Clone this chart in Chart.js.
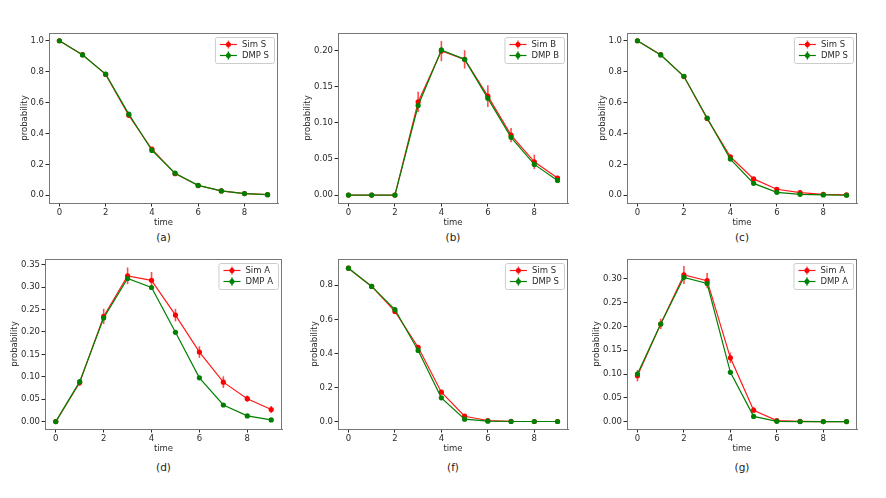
<!DOCTYPE html>
<html>
<head>
<meta charset="utf-8">
<script src="https://cdn.jsdelivr.net/npm/chart.js@4/dist/chart.umd.min.js"></script>
<style>
  body { margin: 0; background: #fff; }
  #fig { position: relative; width: 886px; height: 498px; overflow: hidden; }
  canvas { position: absolute; }
  .cap { position: absolute; font-family: "DejaVu Sans", sans-serif; font-size: 10.5px; color: #222; transform: translate(-50%, -50%); }
</style>
</head>
<body>
<div id="fig"></div>
<script>
// time steps and shared x ticks
const times = [0, 1, 2, 3, 4, 5, 6, 7, 8, 9];
const xTicks = [0, 2, 4, 6, 8];

// (a) S
const aSim = [1.0, 0.91, 0.782, 0.517, 0.298, 0.14, 0.063, 0.028, 0.011, 0.004];
const aSimErr = [0, 0.004, 0.005, 0.006, 0.006, 0.005, 0.004, 0.002, 0.001, 0.001];
const aDmp = [1.0, 0.908, 0.784, 0.525, 0.29, 0.143, 0.064, 0.028, 0.011, 0.004];
const aTicks = [0, 0.2, 0.4, 0.6, 0.8, 1.0];

// (b) B
const bSim = [0, 0, 0, 0.129, 0.1995, 0.188, 0.137, 0.083, 0.046, 0.0236];
const bSimErr = [0, 0, 0, 0.014, 0.014, 0.0127, 0.015, 0.01, 0.01, 0.003];
const bDmp = [0, 0, 0, 0.124, 0.201, 0.188, 0.134, 0.080, 0.0425, 0.0203];
const bTicks = [0, 0.05, 0.10, 0.15, 0.20];

// (c) S
const cSim = [1.0, 0.91, 0.768, 0.496, 0.249, 0.106, 0.039, 0.017, 0.006, 0.003];
const cSimErr = [0, 0.004, 0.006, 0.007, 0.007, 0.005, 0.003, 0.002, 0.001, 0.001];
const cDmp = [1.0, 0.908, 0.770, 0.50, 0.234, 0.077, 0.019, 0.006, 0.002, 0.0];
const cTicks = [0, 0.2, 0.4, 0.6, 0.8, 1.0];

// (d) A
const dSim = [0, 0.087, 0.2345, 0.325, 0.315, 0.2375, 0.155, 0.088, 0.051, 0.027];
const dSimErr = [0, 0.0075, 0.017, 0.0186, 0.0186, 0.014, 0.013, 0.013, 0.007, 0.008];
const dDmp = [0, 0.089, 0.231, 0.319, 0.299, 0.199, 0.0975, 0.037, 0.0127, 0.0037];
const dTicks = [0, 0.05, 0.10, 0.15, 0.20, 0.25, 0.30, 0.35];

// (f) S
const fSim = [0.9, 0.793, 0.646, 0.436, 0.172, 0.031, 0.006, 0.001, 0, 0];
const fSimErr = [0, 0.004, 0.006, 0.008, 0.007, 0.004, 0.002, 0, 0, 0];
const fDmp = [0.9, 0.793, 0.6575, 0.417, 0.139, 0.0137, 0.002, 0, 0, 0];
const fTicks = [0, 0.2, 0.4, 0.6, 0.8];

// (g) A
const gSim = [0.0965, 0.205, 0.308, 0.296, 0.134, 0.024, 0.002, 0.0005, 0, 0];
const gSimErr = [0.012, 0.011, 0.019, 0.016, 0.011, 0.006, 0.002, 0, 0, 0];
const gDmp = [0.100, 0.205, 0.303, 0.290, 0.1035, 0.011, 0.0007, 0, 0, 0];
const gTicks = [0, 0.05, 0.10, 0.15, 0.20, 0.25, 0.30];

const FONT = '"DejaVu Sans", sans-serif';
const TXT = '#2b2b2b';
const RED = 'rgba(255,0,0,0.9)';
const RED_ERR = 'rgba(255,0,0,0.7)';
const GREEN = '#008000';

// vertical error bars, frame and a matplotlib-like legend box
const figPlugin = {
    id: 'fig',
    beforeDatasetsDraw(chart) {
        const ctx = chart.ctx, xs = chart.scales.x, ys = chart.scales.y, a = chart.chartArea;
        ctx.save();
        ctx.beginPath();
        ctx.rect(a.left, a.top, a.right - a.left, a.bottom - a.top);
        ctx.clip();
        chart.data.datasets.forEach(ds => {
            if (!ds.errors) return;
            ctx.strokeStyle = ds.errColor;
            ctx.lineWidth = 1.6;
            ds.data.forEach((p, i) => {
                const e = ds.errors[i];
                if (!e) return;
                const px = xs.getPixelForValue(p.x);
                ctx.beginPath();
                ctx.moveTo(px, ys.getPixelForValue(p.y - e));
                ctx.lineTo(px, ys.getPixelForValue(p.y + e));
                ctx.stroke();
            });
        });
        ctx.restore();
    },
    afterDraw(chart) {
        const ctx = chart.ctx, a = chart.chartArea;
        ctx.save();
        ctx.strokeStyle = '#777';
        ctx.lineWidth = 1;
        ctx.strokeRect(Math.round(a.left) + 0.5, Math.round(a.top) + 0.5,
            Math.round(a.right - a.left) - 1, Math.round(a.bottom - a.top));

        // legend
        ctx.font = '8.5px ' + FONT;
        const sets = chart.data.datasets.slice().sort((p, q) => q.order - p.order);
        const tw = Math.max(...sets.map(d => ctx.measureText(d.label).width));
        const w = 27 + tw + 5, h = 26;
        const x0 = a.right - 4 - w, y0 = a.top + 4;
        ctx.fillStyle = 'rgba(255,255,255,0.85)';
        ctx.strokeStyle = '#ccc';
        ctx.beginPath();
        ctx.roundRect(x0 + 0.5, y0 + 0.5, w, h, 2);
        ctx.fill();
        ctx.stroke();
        sets.forEach((d, i) => {
            const yy = y0 + 7.5 + i * 11;
            ctx.strokeStyle = d.borderColor;
            ctx.lineWidth = 1.2;
            ctx.beginPath();
            ctx.moveTo(x0 + 5, yy);
            ctx.lineTo(x0 + 22, yy);
            ctx.stroke();
            ctx.strokeStyle = d.errColor;
            ctx.lineWidth = 1.5;
            ctx.beginPath();
            ctx.moveTo(x0 + 13.5, yy - 4);
            ctx.lineTo(x0 + 13.5, yy + 4);
            ctx.stroke();
            ctx.fillStyle = d.pointBackgroundColor;
            ctx.beginPath();
            ctx.arc(x0 + 13.5, yy, 2.5, 0, Math.PI * 2);
            ctx.fill();
            ctx.fillStyle = TXT;
            ctx.textBaseline = 'middle';
            ctx.fillText(d.label, x0 + 27, yy + 0.5);
        });
        ctx.restore();
    }
};

function panel(cfg) {
    const { rect, yW, yMin, yMax, yTicks, dec, sim, simErr, dmp, labels, caption } = cfg;
    const padTop = 8, padRight = 12, xH = 28;
    const fig = document.getElementById('fig');
    const cv = document.createElement('canvas');
    const W = (rect.r - rect.l) + yW + padRight;
    const H = (rect.b - rect.t) + padTop + xH;
    cv.width = W; cv.height = H;
    cv.style.left = (rect.l - yW) + 'px';
    cv.style.top = (rect.t - padTop) + 'px';
    cv.style.width = W + 'px';
    cv.style.height = H + 'px';
    fig.appendChild(cv);

    const cap = document.createElement('div');
    cap.className = 'cap';
    cap.textContent = caption;
    cap.style.left = ((rect.l + rect.r) / 2) + 'px';
    cap.style.top = cfg.capY + 'px';
    fig.appendChild(cap);

    const pts = arr => times.map((t, i) => ({ x: t, y: arr[i] }));
    const tickFont = { family: FONT, size: 8.5 };

    new Chart(cv, {
        type: 'line',
        data: {
            datasets: [
                {
                    label: labels[0], data: pts(sim), errors: simErr, errColor: RED_ERR,
                    borderColor: RED, backgroundColor: RED, pointBackgroundColor: '#ff0000',
                    borderWidth: 1.2, pointRadius: 2.6, pointBorderWidth: 0, order: 2
                },
                {
                    label: labels[1], data: pts(dmp), errColor: GREEN,
                    borderColor: GREEN, backgroundColor: GREEN, pointBackgroundColor: GREEN,
                    borderWidth: 1.2, pointRadius: 2.6, pointBorderWidth: 0, order: 1
                }
            ]
        },
        options: {
            responsive: false,
            animation: false,
            devicePixelRatio: 1,
            layout: { padding: { top: padTop, right: padRight, left: 0, bottom: 0 } },
            plugins: { legend: { display: false }, tooltip: { enabled: false } },
            scales: {
                x: {
                    type: 'linear', min: -0.45, max: 9.45,
                    afterBuildTicks: s => { s.ticks = xTicks.map(v => ({ value: v })); },
                    afterFit: s => { s.height = xH; },
                    grid: { drawOnChartArea: false, tickLength: 3.5, color: TXT },
                    border: { color: '#777' },
                    ticks: { font: tickFont, color: TXT, padding: 1.5, maxRotation: 0, autoSkip: false },
                    title: { display: true, text: 'time', font: tickFont, color: TXT, padding: { top: 0, bottom: 3 } }
                },
                y: {
                    type: 'linear', min: yMin, max: yMax,
                    afterBuildTicks: s => { s.ticks = yTicks.map(v => ({ value: v })); },
                    afterFit: s => { s.width = yW; },
                    grid: { drawOnChartArea: false, tickLength: 3.5, color: TXT },
                    border: { color: '#777' },
                    ticks: { font: tickFont, color: TXT, padding: 1.5, autoSkip: false, callback: v => v.toFixed(dec) },
                    title: { display: true, text: 'probability', font: tickFont, color: TXT, padding: { top: 3.5, bottom: 0 } }
                }
            }
        },
        plugins: [figPlugin]
    });
}

panel({ rect: { l: 49, t: 33, r: 278, b: 203 }, yW: 33, yMin: -0.05, yMax: 1.05, yTicks: aTicks, dec: 1,
    sim: aSim, simErr: aSimErr, dmp: aDmp, labels: ['Sim S', 'DMP S'], caption: '(a)', capY: 237 });
panel({ rect: { l: 338, t: 33, r: 568, b: 203 }, yW: 39, yMin: -0.011, yMax: 0.2245, yTicks: bTicks, dec: 2,
    sim: bSim, simErr: bSimErr, dmp: bDmp, labels: ['Sim B', 'DMP B'], caption: '(b)', capY: 237 });
panel({ rect: { l: 627, t: 33, r: 857, b: 203 }, yW: 33, yMin: -0.05, yMax: 1.05, yTicks: cTicks, dec: 1,
    sim: cSim, simErr: cSimErr, dmp: cDmp, labels: ['Sim S', 'DMP S'], caption: '(c)', capY: 237 });
panel({ rect: { l: 45, t: 259, r: 282, b: 429 }, yW: 39, yMin: -0.0165, yMax: 0.3625, yTicks: dTicks, dec: 2,
    sim: dSim, simErr: dSimErr, dmp: dDmp, labels: ['Sim A', 'DMP A'], caption: '(d)', capY: 467 });
panel({ rect: { l: 338, t: 259, r: 568, b: 429 }, yW: 32, yMin: -0.044, yMax: 0.954, yTicks: fTicks, dec: 1,
    sim: fSim, simErr: fSimErr, dmp: fDmp, labels: ['Sim S', 'DMP S'], caption: '(f)', capY: 467 });
panel({ rect: { l: 627, t: 259, r: 857, b: 429 }, yW: 39, yMin: -0.0155, yMax: 0.3415, yTicks: gTicks, dec: 2,
    sim: gSim, simErr: gSimErr, dmp: gDmp, labels: ['Sim A', 'DMP A'], caption: '(g)', capY: 467 });
</script>
</body>
</html>
